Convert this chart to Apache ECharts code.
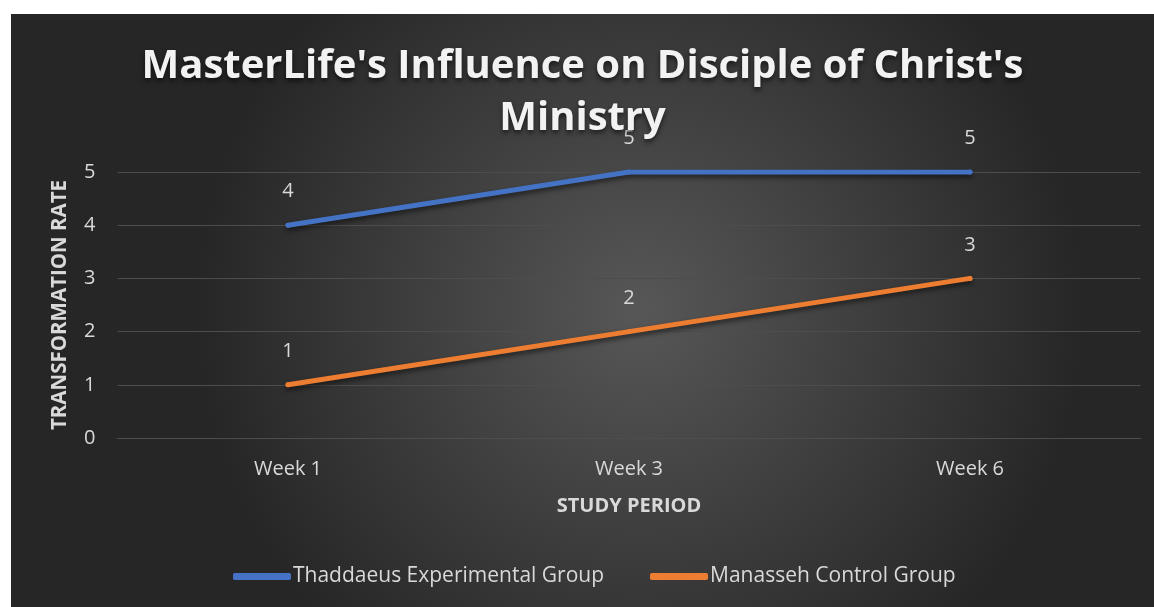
<!DOCTYPE html>
<html>
<head>
<meta charset="utf-8">
<style>
html,body{margin:0;padding:0;background:#ffffff;}
#chart{position:absolute;left:11px;top:14px;width:1143px;height:593px;}
</style>
<script src="https://cdn.jsdelivr.net/npm/echarts@6/dist/echarts.min.js"></script>
</head>
<body>
<div id="chart"></div>
<script>
const categories = ['Week 1', 'Week 3', 'Week 6'];
const seriesNames = ['Thaddaeus Experimental Group', 'Manasseh Control Group'];
const experimental = [4, 5, 5];
const control = [1, 2, 3];
const yTicks = [0, 1, 2, 3, 4, 5];

const chart = echarts.init(document.getElementById('chart'));
const textColor = '#d9d9d9';
const font = 'Open Sans';

function lineSeries(name, data, color) {
  return {
    name: name,
    type: 'line',
    data: data,
    symbol: 'circle',
    symbolSize: 5,
    itemStyle: { color: color },
    lineStyle: {
      color: color, width: 5, cap: 'round', join: 'round',
      shadowColor: 'rgba(0,0,0,0.55)', shadowBlur: 5, shadowOffsetY: 3
    },
    label: {
      show: true, position: 'top', distance: 21,
      color: textColor, fontSize: 20, fontFamily: font
    },
    emphasis: { disabled: true }
  };
}

chart.setOption({
  backgroundColor: {
    type: 'radial', x: 0.55, y: 0.5, r: 0.75,
    colorStops: [
      { offset: 0, color: '#575757' },
      { offset: 1, color: '#262626' }
    ]
  },
  animation: false,
  title: {
    text: "MasterLife's Influence on Disciple of Christ's\nMinistry",
    left: 'center',
    top: 22,
    textStyle: {
      color: '#f2f2f2', fontSize: 40, fontWeight: 'bold', fontFamily: font,
      lineHeight: 52,
      textShadowColor: 'rgba(0,0,0,0.6)', textShadowBlur: 5, textShadowOffsetY: 3
    }
  },
  grid: { left: 106.5, right: 13.5, top: 158, bottom: 169, containLabel: false },
  legend: {
    bottom: 15,
    left: 217,
    itemWidth: 58,
    itemHeight: 7,
    itemGap: 46,
    icon: 'roundRect',
    textStyle: { color: textColor, fontSize: 21, fontFamily: font, padding: [0, 0, 0, -3] },
    data: seriesNames
  },
  xAxis: {
    type: 'category',
    data: categories,
    boundaryGap: true,
    name: 'STUDY PERIOD',
    nameLocation: 'middle',
    nameGap: 58,
    nameTextStyle: { color: textColor, fontSize: 20, fontWeight: 'bold', fontFamily: font },
    axisLine: { show: true, lineStyle: { color: '#4d4d4d', width: 1 } },
    axisTick: { show: false },
    axisLabel: { color: textColor, fontSize: 20, fontFamily: font, margin: 21 },
    splitLine: { show: false }
  },
  yAxis: {
    type: 'value',
    min: yTicks[0],
    max: yTicks[yTicks.length - 1],
    interval: 1,
    name: 'TRANSFORMATION RATE',
    nameLocation: 'middle',
    nameGap: 47,
    nameTextStyle: { color: textColor, fontSize: 20.5, fontWeight: 'bold', fontFamily: font },
    axisLine: { show: false },
    axisTick: { show: false },
    axisLabel: { color: textColor, fontSize: 20, fontFamily: font, margin: 22 },
    splitLine: { lineStyle: { color: '#4d4d4d', width: 1 } }
  },
  series: [
    lineSeries(seriesNames[0], experimental, '#4472c4'),
    lineSeries(seriesNames[1], control, '#ed7d31')
  ]
});
</script>
</body>
</html>
